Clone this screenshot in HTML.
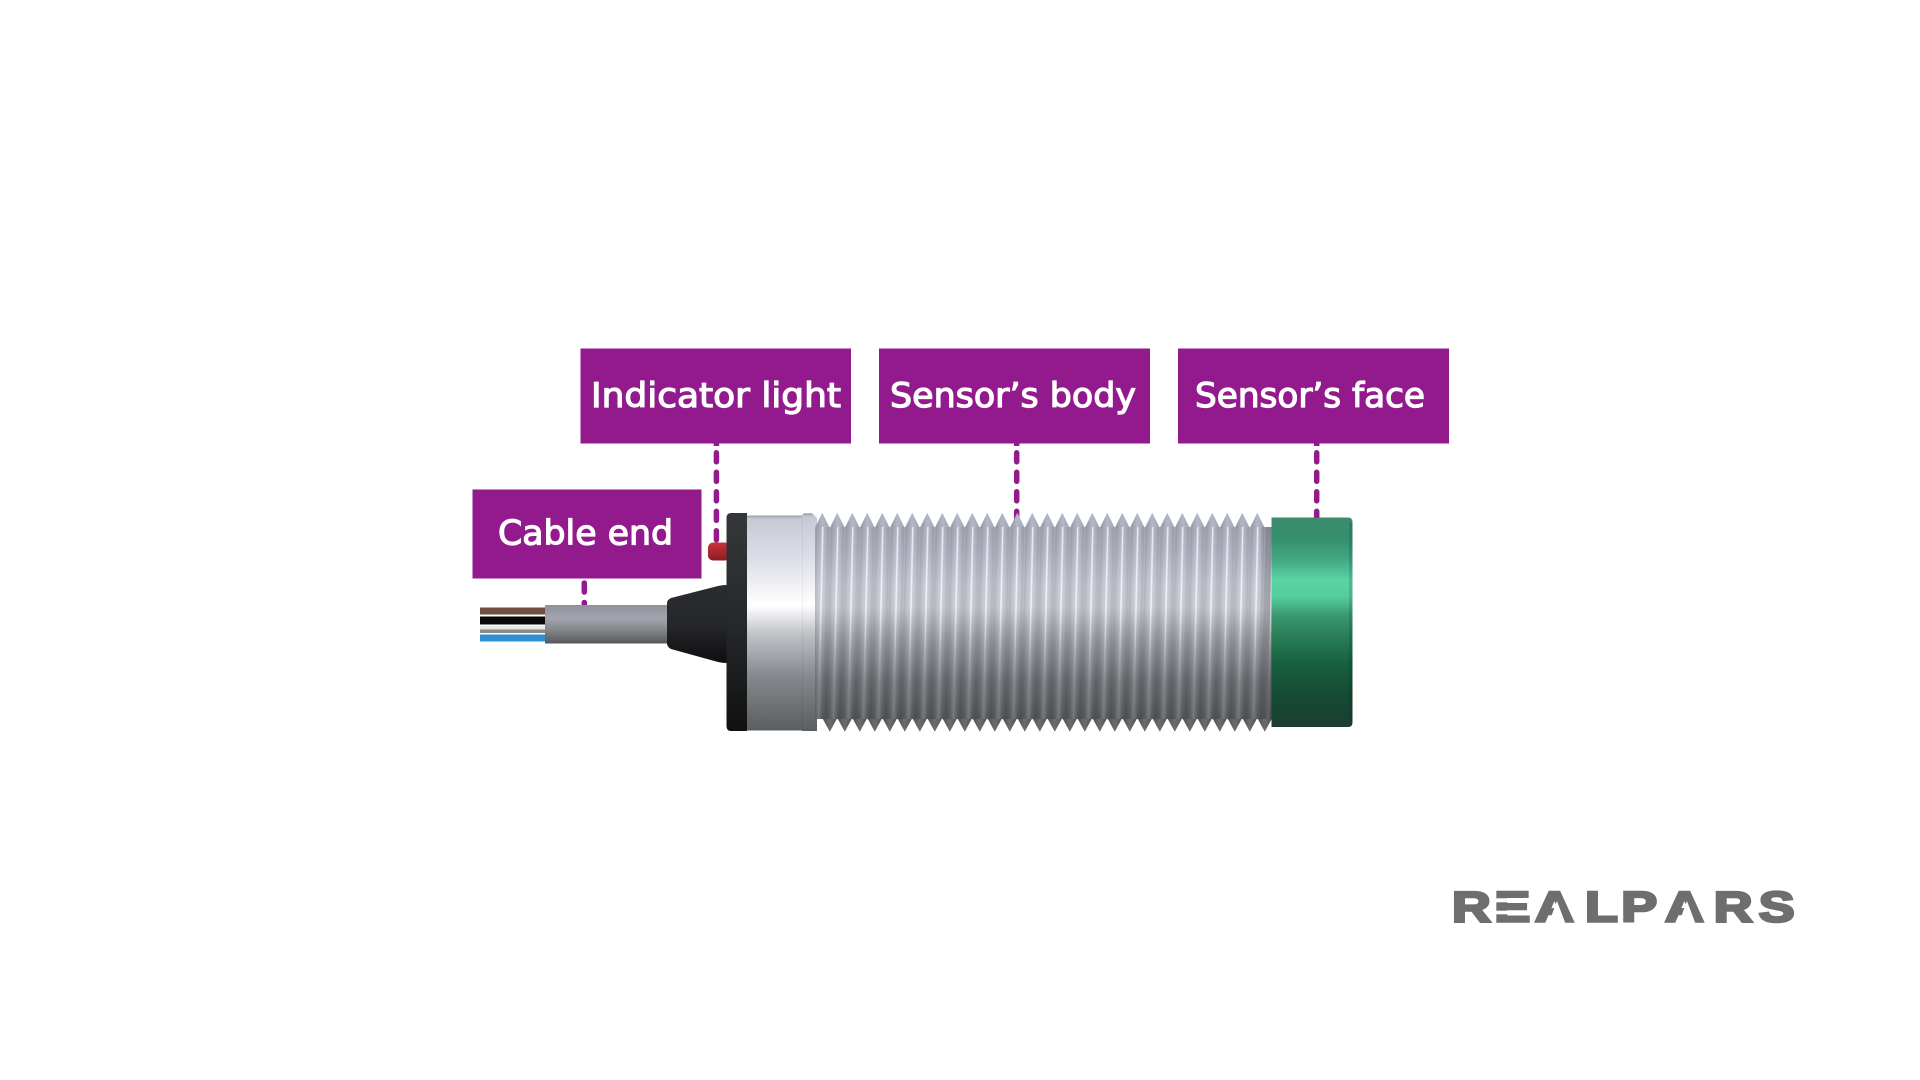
<!DOCTYPE html>
<html><head><meta charset="utf-8"><style>
html,body{margin:0;padding:0;background:#fff;width:1920px;height:1080px;overflow:hidden;position:relative}
svg{display:block;position:absolute;left:0;top:0}
#thread{position:absolute;left:815px;top:527px;width:457px;height:192px;
background:
linear-gradient(90deg,rgba(0,0,0,0) 0,rgba(0,0,0,0) 445px,rgba(20,20,20,.3) 457px),
repeating-linear-gradient(91.3deg,rgba(0,0,0,.13) 0,rgba(0,0,0,.01) 4px,rgba(255,255,255,.18) 7.8px,rgba(0,0,0,.01) 11.5px,rgba(0,0,0,.13) 14.996px),
linear-gradient(180deg,#a6aab7 0,#b0b4c2 12%,#c4c7d4 30%,#c6c8d0 42%,#9a9da3 58%,#6c6f74 80%,#56595c 100%);}
#lines{position:absolute;left:0;top:0;width:457px;height:192px;
background:repeating-linear-gradient(91.3deg,rgba(255,255,255,.22) 0,rgba(255,255,255,0) 1.2px,rgba(255,255,255,0) 6.6px,rgba(255,255,255,.68) 7.4px,rgba(255,255,255,.68) 8.2px,rgba(255,255,255,0) 9px,rgba(255,255,255,0) 13.8px,rgba(255,255,255,.22) 14.996px);
-webkit-mask-image:linear-gradient(180deg,#000 0,#000 40%,rgba(0,0,0,.25) 65%,rgba(0,0,0,0) 85%);
mask-image:linear-gradient(180deg,#000 0,#000 40%,rgba(0,0,0,.25) 65%,rgba(0,0,0,0) 85%);}
</style></head><body>
<svg xmlns="http://www.w3.org/2000/svg" width="1920" height="1080" viewBox="0 0 1920 1080">
<defs>
<linearGradient id="col" x1="0" y1="0" x2="0" y2="1"><stop offset="0" stop-color="#9a9da5"/><stop offset=".015" stop-color="#c6c9d3"/><stop offset=".2" stop-color="#dcdee7"/><stop offset=".42" stop-color="#fff"/><stop offset=".55" stop-color="#c0c3c8"/><stop offset=".75" stop-color="#85888c"/><stop offset="1" stop-color="#5b5e61"/></linearGradient>
<linearGradient id="fl" x1="0" y1="0" x2="0" y2="1"><stop offset="0" stop-color="#35383b"/><stop offset=".5" stop-color="#26282a"/><stop offset="1" stop-color="#111"/></linearGradient>
<linearGradient id="gr" x1="0" y1="0" x2="0" y2="1"><stop offset="0" stop-color="#2a2c2f"/><stop offset=".5" stop-color="#26272a"/><stop offset="1" stop-color="#0f0f10"/></linearGradient>
<linearGradient id="ca" x1="0" y1="0" x2="0" y2="1"><stop offset="0" stop-color="#8f929a"/><stop offset=".35" stop-color="#a3a5ae"/><stop offset=".7" stop-color="#7e8084"/><stop offset="1" stop-color="#55575a"/></linearGradient>
<linearGradient id="led" x1="0" y1="0" x2="0" y2="1"><stop offset="0" stop-color="#c8353c"/><stop offset="1" stop-color="#8c1b22"/></linearGradient>
<linearGradient id="tt1" x1="0" y1="0" x2="1" y2="0"><stop offset="0" stop-color="#8f93a0"/><stop offset=".5" stop-color="#b4b8c4"/><stop offset="1" stop-color="#a0a4b0"/></linearGradient>
<linearGradient id="bt1" x1="0" y1="0" x2="1" y2="0"><stop offset="0" stop-color="#4e5053"/><stop offset=".5" stop-color="#6a6c6f"/><stop offset="1" stop-color="#505255"/></linearGradient>
<polygon id="tt" points="814.8,528 822.3,512.7 829.8,528" fill="url(#tt1)"/>
<polygon id="bt" points="814.8,718 822.3,731.7 829.8,718" fill="url(#bt1)"/>
</defs>
<g fill="#921a8c">
<rect x="580.5" y="348.5" width="270.5" height="95"/>
<rect x="879" y="348.5" width="271" height="95"/>
<rect x="1178" y="348.5" width="271" height="95"/>
<rect x="472.5" y="489.5" width="229" height="89"/>
</g>
<g stroke="#921a8c" stroke-width="5.5" fill="none">
<line x1="716.4" y1="443" x2="716.4" y2="446"/>
<line x1="1016.7" y1="443" x2="1016.7" y2="446"/>
<line x1="1316.7" y1="443" x2="1316.7" y2="446"/>
</g>
<g stroke="#921a8c" stroke-width="5.5" stroke-linecap="round" fill="none" stroke-dasharray="9 10.5">
<line x1="716.4" y1="452.8" x2="716.4" y2="545"/>
<line x1="1016.7" y1="452.8" x2="1016.7" y2="522"/>
<line x1="1316.7" y1="452.8" x2="1316.7" y2="518"/>
<line x1="584.3" y1="583" x2="584.3" y2="606"/>
</g>
<g font-family="'DejaVu Sans','Liberation Sans',sans-serif" font-size="34" font-weight="400" fill="#fff" stroke="#fff" stroke-width="1.2">
<text x="591" y="407" textLength="250" lengthAdjust="spacingAndGlyphs">Indicator light</text>
<text x="890" y="407" textLength="246" lengthAdjust="spacingAndGlyphs">Sensor’s body</text>
<text x="1195" y="407" textLength="230" lengthAdjust="spacingAndGlyphs">Sensor’s face</text>
<text x="498" y="544.5" textLength="175" lengthAdjust="spacingAndGlyphs">Cable end</text>
</g>
<rect x="480" y="607.5" width="66" height="7" fill="#6f4f42"/>
<rect x="480" y="616.5" width="66" height="8" fill="#0a0a0a"/>
<rect x="480" y="626" width="66" height="3.5" fill="#e8e8e8"/>
<rect x="480" y="629.5" width="66" height="3.5" fill="#8c8a85"/>
<rect x="480" y="634.5" width="66" height="7" fill="#2f8fd0"/>
<rect x="545" y="605" width="123" height="38.5" fill="url(#ca)"/>
<path d="M667 603 Q667 600 671 598 L718 586 Q722 585 727 585 L727 663 Q722 663 718 662 L671 649 Q667 647 667 643 Z" fill="url(#gr)"/>
<rect x="708" y="542.5" width="22" height="18" rx="5" fill="url(#led)"/>
<path d="M747 513 L731 513 Q726.5 513 726.5 518 L726.5 726 Q726.5 731 731 731 L747 731 Z" fill="url(#fl)"/>
<rect x="747" y="515.5" width="56" height="215" fill="url(#col)"/>
<path d="M802 515 L804 513.3 L812 513.3 L817 518 L817 731 L802 731 Z" fill="url(#col)"/>
<rect x="802" y="518" width="1" height="212" fill="#000" opacity=".05"/>
<g>
<use href="#tt" x="0"/><use href="#tt" x="15"/><use href="#tt" x="30"/><use href="#tt" x="45"/><use href="#tt" x="60"/><use href="#tt" x="75"/><use href="#tt" x="90"/><use href="#tt" x="105"/><use href="#tt" x="120"/><use href="#tt" x="135"/><use href="#tt" x="150"/><use href="#tt" x="165"/><use href="#tt" x="180"/><use href="#tt" x="195"/><use href="#tt" x="210"/><use href="#tt" x="225"/><use href="#tt" x="240"/><use href="#tt" x="255"/><use href="#tt" x="270"/><use href="#tt" x="285"/><use href="#tt" x="300"/><use href="#tt" x="315"/><use href="#tt" x="330"/><use href="#tt" x="345"/><use href="#tt" x="360"/><use href="#tt" x="375"/><use href="#tt" x="390"/><use href="#tt" x="405"/><use href="#tt" x="420"/><use href="#tt" x="435"/>
<use href="#bt" x="7.5"/><use href="#bt" x="22.5"/><use href="#bt" x="37.5"/><use href="#bt" x="52.5"/><use href="#bt" x="67.5"/><use href="#bt" x="82.5"/><use href="#bt" x="97.5"/><use href="#bt" x="112.5"/><use href="#bt" x="127.5"/><use href="#bt" x="142.5"/><use href="#bt" x="157.5"/><use href="#bt" x="172.5"/><use href="#bt" x="187.5"/><use href="#bt" x="202.5"/><use href="#bt" x="217.5"/><use href="#bt" x="232.5"/><use href="#bt" x="247.5"/><use href="#bt" x="262.5"/><use href="#bt" x="277.5"/><use href="#bt" x="292.5"/><use href="#bt" x="307.5"/><use href="#bt" x="322.5"/><use href="#bt" x="337.5"/><use href="#bt" x="352.5"/><use href="#bt" x="367.5"/><use href="#bt" x="382.5"/><use href="#bt" x="397.5"/><use href="#bt" x="412.5"/><use href="#bt" x="427.5"/><use href="#bt" x="442.5"/>
</g>
<g transform="scale(1.25 1)"><text x="1161.6 1195.5 1228 1268 1297 1332 1371 1407" y="921.5" font-family="'Liberation Sans',sans-serif" font-weight="700" font-size="43" fill="#6e6e6e" stroke="#6e6e6e" stroke-width="2.6">REALPARS</text></g>
<g fill="#fff">
<rect x="1491" y="898.3" width="42" height="4"/>
<rect x="1491" y="910.7" width="42" height="3.6"/>
<polygon points="1548,925 1566,925 1557,901"/>
<polygon points="1678,925 1696,925 1687,901"/>
</g>
</svg>
<div id="thread"><div id="lines"></div></div>
<svg xmlns="http://www.w3.org/2000/svg" width="1920" height="1080" viewBox="0 0 1920 1080">
<defs>
<linearGradient id="gn" x1="0" y1="0" x2="0" y2="1"><stop offset="0" stop-color="#3f8a6e"/><stop offset=".1" stop-color="#35906f"/><stop offset=".2" stop-color="#43a683"/><stop offset=".3" stop-color="#5bd4a5"/><stop offset=".38" stop-color="#55cc9e"/><stop offset=".46" stop-color="#3c9b74"/><stop offset=".56" stop-color="#2a7f58"/><stop offset=".7" stop-color="#186040"/><stop offset=".85" stop-color="#164b35"/><stop offset="1" stop-color="#1c3d30"/></linearGradient>
</defs>
<path d="M1271.5 517.5 H1348 Q1352.5 517.5 1352.5 522 V722.5 Q1352.5 727 1348 727 H1271.5 Z" fill="url(#gn)"/>
<rect x="1349" y="522" width="3.5" height="200" fill="#000" opacity=".12"/>
</svg>
</body></html>
